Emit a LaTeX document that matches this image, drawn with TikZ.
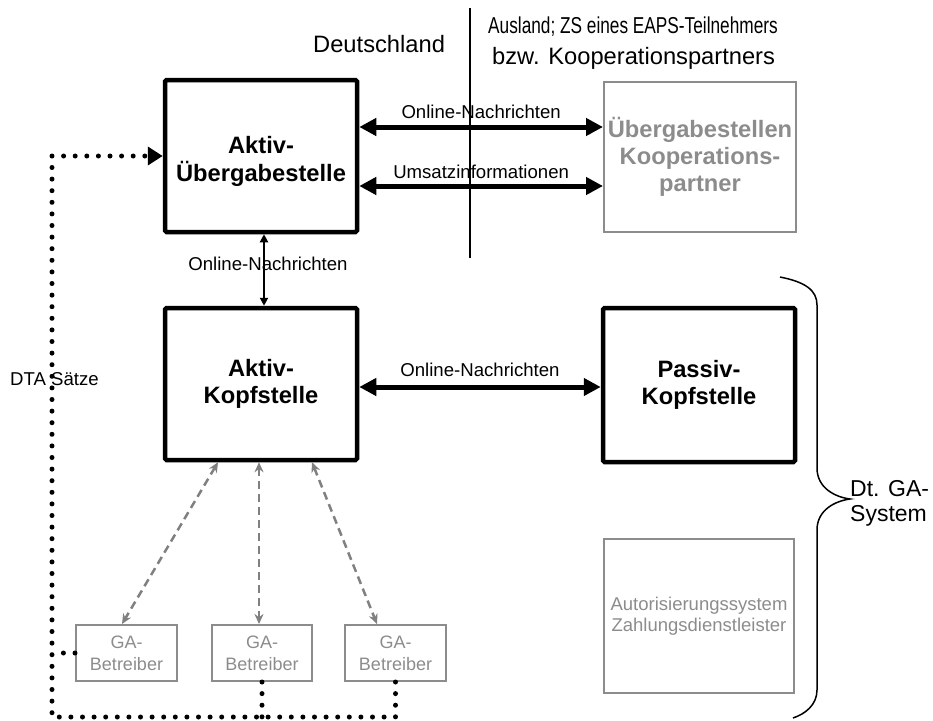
\documentclass[tikz,border=0pt]{standalone}
\usepackage{fontspec}
\usepackage{graphicx}
\setmainfont{Liberation Sans}
\usetikzlibrary{arrows.meta,calc}
\definecolor{lightline}{HTML}{8C8C8C}
\definecolor{dashgray}{HTML}{808080}

\begin{document}
\begin{tikzpicture}[x=1pt,y=-1pt,
  mainbox/.style={draw, line width=4.5pt, rounded corners=1.5pt,
    minimum width=192pt, minimum height=152pt, inner sep=0pt, align=center,
    font=\fontsize{23.7}{27}\selectfont\bfseries},
  extbox/.style={draw=lightline, line width=2pt, text=lightline,
    minimum width=192pt, minimum height=150pt, inner sep=0pt, align=center,
    font=\fontsize{23.7}{27}\selectfont\bfseries},
  authbox/.style={draw=lightline, line width=2pt, text=lightline,
    minimum width=190pt, minimum height=154pt, inner sep=0pt, align=center,
    font=\fontsize{18.5}{21.5}\selectfont},
  opbox/.style={draw=lightline, line width=2pt, text=lightline,
    minimum width=101pt, minimum height=56pt, inner sep=0pt, align=center,
    font=\fontsize{18}{22}\selectfont},
  lbl/.style={font=\fontsize{18.6}{21.5}\selectfont, inner sep=0pt},
  hdr/.style={font=\fontsize{23.7}{27}\selectfont, inner sep=0pt},
  thickarrow/.style={line width=5pt,
    {Triangle[length=17pt,width=17pt]}-{Triangle[length=17pt,width=17pt]}},
  thinarrow/.style={line width=2pt,
    {Triangle[length=8pt,width=8pt]}-{Triangle[length=8pt,width=8pt]}},
  dasharrow/.style={draw=dashgray, line width=2.5pt, dash pattern=on 8pt off 5pt,
    {Stealth[length=10pt,width=9pt]}-{Stealth[length=10pt,width=9pt]}},
  dotline/.style={line width=5pt, dash pattern=on 0pt off 11.6pt, line cap=round},
]
\useasboundingbox (0,0) rectangle (933,720);

% headings and national border
\node[hdr, anchor=base west] (de) at (313,52) {Deutschland};
\node[hdr, anchor=base west] (aus1) at (488,33)
  {\scalebox{0.75}[1]{\fontsize{23}{27}\selectfont Ausland; ZS eines EAPS-Teilnehmers}};
\node[hdr, anchor=base west] (aus2) at (492,64) {bzw. Kooperationspartners};
\draw[line width=1.5pt] (470,8) -- (470,258);

% main components
\node[mainbox] (ueb) at (261,156)
  {\raisebox{-6pt}[\height][\depth]{\begin{tabular}{@{}c@{}}Aktiv-\\Übergabestelle\end{tabular}}};
\node[mainbox] (akopf) at (261,384) {Aktiv-\\Kopfstelle};
\node[mainbox, minimum height=154pt] (pkopf) at (699,385) {Passiv-\\Kopfstelle};
\node[extbox] (koop) at (700,157) {Übergabestellen\\Kooperations-\\partner};
\node[authbox] (auth) at (699,616) {Autorisierungssystem\\Zahlungsdienstleister};

% operators
\node[opbox] (ga1) at (126.5,653) {GA-\\Betreiber};
\node[opbox, minimum width=100pt] (ga2) at (262,653) {GA-\\Betreiber};
\node[opbox] (ga3) at (395.5,653) {GA-\\Betreiber};

% message flows
\draw[thickarrow] ([yshift=29pt]ueb.east) -- ([yshift=29pt]ueb.east -| koop.west)
  node[lbl, midway, anchor=base, yshift=9pt] {Online-Nachrichten};
\draw[thickarrow] ([yshift=-30pt]ueb.east) -- ([yshift=-30pt]ueb.east -| koop.west)
  node[lbl, midway, anchor=base, yshift=7.5pt] {Umsatzinformationen};
\draw[thinarrow] ([xshift=3pt]ueb.south) -- ([xshift=3pt]akopf.north);
\node[lbl, anchor=base] (vlbl) at (268,270) {Online-Nachrichten};
\draw[thickarrow] ([yshift=-3pt]akopf.east) -- ([yshift=-3pt]akopf.east -| pkopf.west)
  node[lbl, midway, anchor=base, yshift=11pt] {Online-Nachrichten};

% operator links
\draw[dasharrow] ([xshift=-43pt]akopf.south) -- ([xshift=-4.5pt]ga1.north);
\draw[dasharrow] ([xshift=-2pt]akopf.south) -- ([xshift=-3pt]ga2.north);
\draw[dasharrow] ([xshift=51pt]akopf.south) -- ([xshift=-18.5pt]ga3.north);

% DTA records
\coordinate (dtl) at (52,156);
\coordinate (dbl) at (52,717);
\draw[dotline] (ga3.south) -- (ga3.south |- dbl) -- (dbl) -- (dtl);
\draw[dotline, -{Triangle[length=15pt,width=18pt]}] (dtl) -- (ueb.west);
\draw[dotline] (ga2.south) -- (ga2.south |- dbl);
\draw[dotline] (ga1.west) -- (ga1.west -| dbl);
\node[lbl, anchor=base west] (dta) at (10,385) {DTA Sätze};

% system brace
\draw[line width=1.5pt]
  (780,277) .. controls (805,282) and (817,290) .. (817,305)
  -- (817,468) .. controls (817,488) and (835,497) .. (850,499)
  .. controls (835,501) and (817,510) .. (817,530)
  -- (817,690) .. controls (817,705) and (805,714) .. (793,718);
\node[font=\fontsize{23}{25}\selectfont, align=left, anchor=west, inner sep=0pt]
  (gasys) at (850,503) {Dt. GA-\\System};
\end{tikzpicture}
\end{document}
